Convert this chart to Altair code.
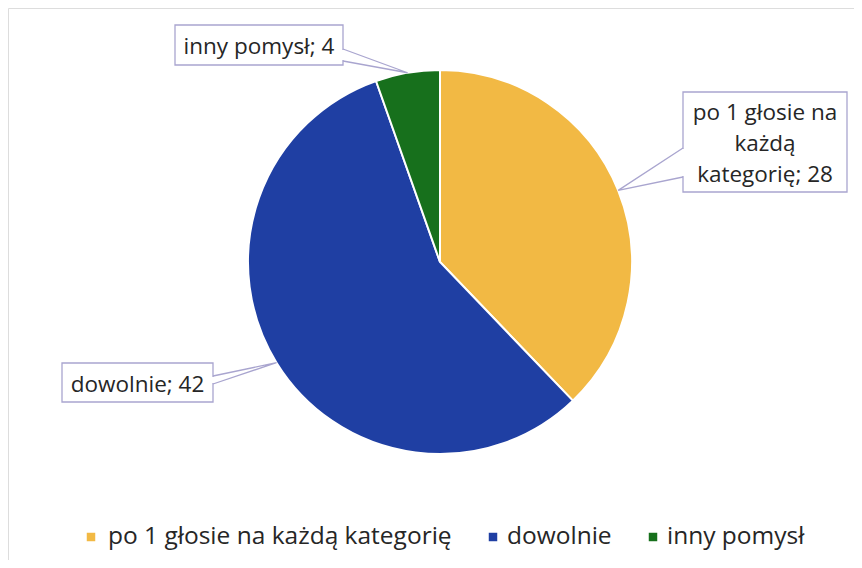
import altair as alt
import numpy as np
import pandas as pd

# ---- data ----
categories = ["po 1 głosie na każdą kategorię", "dowolnie", "inny pomysł"]
values = [28, 42, 4]
label_texts = ["po 1 głosie na\nkażdą\nkategorię; 28", "dowolnie; 42", "inny pomysł; 4"]
colors = ["#F2B944", "#1F3FA3", "#17701C"]

# ---- layout (chart coordinates, page minus 8px margin) ----
W, H = 846, 552
CX, CY, R = 432, 254, 192
LINE_H = 31
# callout boxes: x, x2, y, y2
boxes = [
    (675, 839, 84, 184),   # yellow
    (54, 205, 355, 394),   # blue
    (167, 335, 17, 57),    # green
]
# wedge base points on box edges
bases = [
    ((675, 140), (675, 169)),
    ((205, 368), (205, 376)),
    ((335, 41), (335, 53)),
]
# legend layout
LEG_Y = 529
leg_sym_x = [83, 485, 645]
leg_txt_x = [100, 499, 659]

total = sum(values)
cum = np.cumsum([0] + values[:-1])
mids = 2 * np.pi * (cum + np.array(values) / 2) / total
tips = [(CX + R * np.sin(a), CY - R * np.cos(a)) for a in mids]

pie_df = pd.DataFrame({"cat": categories, "val": values, "ord": list(range(len(values)))})

box_df = pd.DataFrame({
    "cat": categories,
    "x": [b[0] for b in boxes], "x2": [b[1] for b in boxes],
    "y": [b[2] for b in boxes], "y2": [b[3] for b in boxes],
})

wedge_rows = []
cover_rows = []
for i, c in enumerate(categories):
    (b1, b2), t = bases[i], tips[i]
    wedge_rows += [
        {"cat": c, "k": 0, "x": b1[0], "y": b1[1]},
        {"cat": c, "k": 1, "x": t[0], "y": t[1]},
        {"cat": c, "k": 2, "x": b2[0], "y": b2[1]},
    ]
    cover_rows += [
        {"cat": c, "k": 0, "x": b1[0], "y": b1[1] + 1},
        {"cat": c, "k": 1, "x": b2[0], "y": b2[1] - 1},
    ]
wedge_df = pd.DataFrame(wedge_rows)
cover_df = pd.DataFrame(cover_rows)

text_df = pd.DataFrame({
    "cat": categories,
    "label": label_texts,
    "x": [(b[0] + b[1]) / 2 for b in boxes],
    "y": [(b[2] + b[3]) / 2 + 2 - (t.count("\n")) * LINE_H / 2 for b, t in zip(boxes, label_texts)],
})

leg_df = pd.DataFrame({"cat": categories, "sx": leg_sym_x, "tx": leg_txt_x, "y": [LEG_Y] * 3})

FONT = "Open Sans"
FS = 22.5
LFS = 24.5
TXT = "#262626"
EDGE = "#A9A5CF"

color_scale = alt.Scale(domain=categories, range=colors)

pie = alt.Chart(pie_df).mark_arc(radius=R, stroke="white", strokeWidth=2).encode(
    theta=alt.Theta("val:Q", stack=True),
    color=alt.Color("cat:N", scale=color_scale, sort=categories, legend=None),
    order=alt.Order("ord:Q"),
    x=alt.value(CX), y=alt.value(CY),
)

rects = alt.Chart(box_df).mark_rect(fill="white", stroke=EDGE, strokeWidth=1.3).encode(
    x=alt.X("x:Q", scale=None), x2="x2:Q",
    y=alt.Y("y:Q", scale=None), y2="y2:Q",
)

cover = alt.Chart(cover_df).mark_line(color="white", strokeWidth=2.5).encode(
    x=alt.X("x:Q", scale=None), y=alt.Y("y:Q", scale=None),
    detail="cat:N", order="k:Q",
)

wedges = alt.Chart(wedge_df).mark_line(color=EDGE, strokeWidth=1.3).encode(
    x=alt.X("x:Q", scale=None), y=alt.Y("y:Q", scale=None),
    detail="cat:N", order="k:Q",
)

texts = alt.Chart(text_df).mark_text(
    font=FONT, fontSize=FS, color=TXT, align="center", baseline="middle",
    lineBreak="\n", lineHeight=LINE_H,
).encode(
    x=alt.X("x:Q", scale=None), y=alt.Y("y:Q", scale=None), text="label:N",
)

leg_sym = alt.Chart(leg_df).mark_square(size=72, opacity=1).encode(
    x=alt.X("sx:Q", scale=None), y=alt.Y("y:Q", scale=None),
    color=alt.Color("cat:N", scale=color_scale, legend=None),
)

leg_txt = alt.Chart(leg_df).mark_text(
    font=FONT, fontSize=LFS, color=TXT, align="left", baseline="middle",
).encode(
    x=alt.X("tx:Q", scale=None), y=alt.Y("y:Q", scale=None), text="cat:N",
)

chart = alt.layer(pie, rects, cover, wedges, texts, leg_sym, leg_txt).properties(
    width=W, height=H, autosize=alt.AutoSizeParams(type="none"), padding=0,
).configure_view(stroke="#E4E4E4", strokeWidth=1).configure(background="white")

chart.save("out.html", embed_options={"renderer": "svg", "actions": False})
